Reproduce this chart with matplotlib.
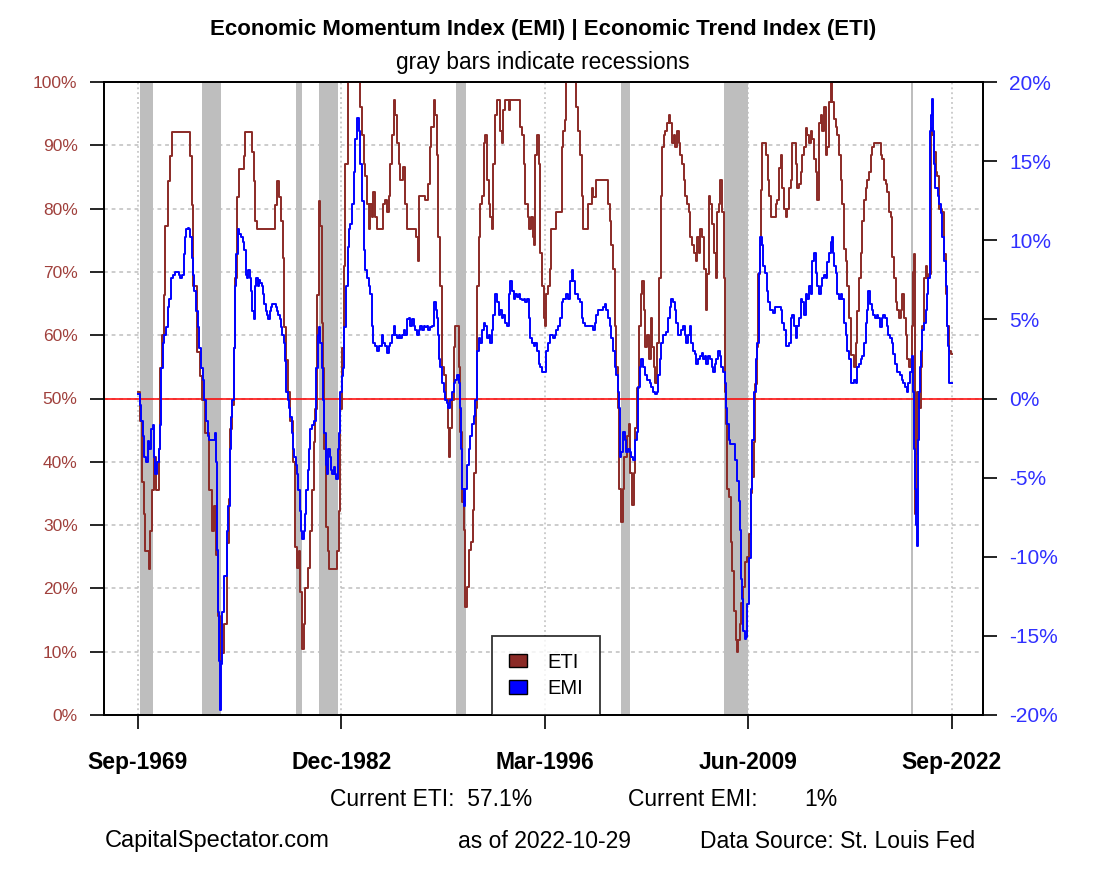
import matplotlib
matplotlib.use("Agg")
import matplotlib.pyplot as plt
from matplotlib.patches import Patch

plt.rcParams['font.family'] = ['Liberation Sans', 'DejaVu Sans']

# ---------------- data ----------------
xtick_pos = [1969.667, 1982.917, 1996.167, 2009.417, 2022.667]
xtick_labels = ["Sep-1969", "Dec-1982", "Mar-1996", "Jun-2009", "Sep-2022"]

rec_start = [1969.83, 1973.87, 1980.00, 1981.50, 1990.42, 2001.10, 2007.84, 2020.00]
rec_end = [1970.68, 1975.09, 1980.38, 1982.72, 1991.03, 2001.70, 2009.40, 2020.15]

eti_points = [
    (1969.67, 51.0), (1969.84, 46.5), (1969.95, 36.8), (1970.06, 31.7), (1970.17, 25.9),
    (1970.39, 23.0), (1970.49, 29.1), (1970.60, 35.5), (1970.71, 40.7), (1970.88, 35.5),
    (1971.04, 42.0), (1971.15, 54.8), (1971.25, 60.0), (1971.36, 66.4), (1971.47, 77.3),
    (1971.62, 84.4), (1971.80, 88.3), (1971.90, 92.1), (1973.00, 92.1), (1973.10, 88.3),
    (1973.20, 80.5), (1973.30, 67.7), (1973.53, 57.4), (1973.75, 53.5), (1973.86, 49.7),
    (1974.07, 44.5), (1974.29, 35.5), (1974.51, 29.1), (1974.62, 33.0), (1974.79, 25.2),
    (1974.90, 15.6), (1975.05, 8.5), (1975.16, 9.8), (1975.31, 14.3), (1975.48, 27.2),
    (1975.59, 34.2), (1975.70, 45.2), (1975.81, 49.0), (1975.92, 58.0), (1976.03, 69.0),
    (1976.13, 81.8), (1976.24, 86.3), (1976.57, 88.3), (1976.68, 92.1), (1977.00, 92.1),
    (1977.11, 88.9), (1977.22, 84.4), (1977.33, 78.0), (1977.44, 76.7), (1978.52, 76.7),
    (1978.63, 80.5), (1978.74, 84.4), (1978.89, 81.8), (1979.00, 78.0), (1979.10, 72.2),
    (1979.21, 61.3), (1979.32, 56.1), (1979.43, 51.0), (1979.60, 46.5), (1979.76, 40.0),
    (1979.89, 26.5), (1980.04, 23.3), (1980.15, 25.9), (1980.26, 19.5), (1980.36, 10.5),
    (1980.47, 14.3), (1980.58, 20.1), (1980.73, 23.3), (1980.91, 29.1), (1981.02, 35.5),
    (1981.12, 43.2), (1981.23, 48.4), (1981.34, 66.4), (1981.45, 81.2), (1981.56, 77.3),
    (1981.67, 61.9), (1981.73, 54.8), (1981.82, 42.0), (1981.90, 29.7), (1982.03, 25.9),
    (1982.14, 23.0), (1982.53, 23.0), (1982.64, 25.9), (1982.75, 32.3), (1982.86, 48.4),
    (1982.97, 58.0), (1983.07, 70.9), (1983.18, 87.0), (1983.33, 100.0),
    (1984.16, 96.1), (1984.27, 91.6), (1984.37, 87.1), (1984.48, 85.2), (1984.59, 80.7),
    (1984.70, 76.8), (1984.81, 80.7), (1984.92, 78.7), (1985.02, 82.6), (1985.13, 78.7),
    (1985.24, 76.8), (1985.50, 76.8), (1985.61, 80.7), (1985.78, 81.3), (1985.89, 79.4),
    (1986.00, 82.0), (1986.11, 87.1), (1986.22, 91.6), (1986.33, 97.1), (1986.43, 94.8),
    (1986.54, 90.3), (1986.65, 87.1), (1986.76, 84.5), (1986.93, 86.5), (1987.09, 80.7),
    (1987.19, 76.8), (1987.67, 76.8), (1987.80, 75.5), (1987.89, 71.7), (1988.00, 82.0),
    (1988.39, 81.3), (1988.56, 83.9), (1988.67, 89.7), (1988.78, 92.9), (1988.93, 97.1),
    (1989.04, 94.8), (1989.15, 88.4), (1989.25, 75.5), (1989.36, 67.8), (1989.47, 55.0),
    (1989.62, 53.7), (1989.75, 49.8), (1989.84, 45.3), (1989.93, 40.8), (1990.01, 45.3),
    (1990.14, 49.8), (1990.23, 58.2), (1990.34, 61.4), (1990.49, 61.4), (1990.58, 55.0),
    (1990.66, 44.7), (1990.77, 33.7), (1990.88, 29.2), (1990.99, 17.0), (1991.10, 20.2),
    (1991.21, 26.0), (1991.36, 27.3), (1991.47, 32.4), (1991.58, 38.2), (1991.66, 48.5),
    (1991.75, 67.8), (1991.86, 75.5), (1991.97, 80.7), (1992.07, 82.0), (1992.18, 90.3),
    (1992.29, 91.6), (1992.40, 84.5), (1992.51, 80.7), (1992.62, 78.7), (1992.73, 76.8),
    (1992.83, 87.1), (1992.94, 94.8), (1993.05, 97.1), (1993.27, 92.3), (1993.38, 90.3),
    (1993.48, 95.5), (1993.59, 97.1), (1993.81, 95.5), (1993.92, 97.1), (1994.46, 97.1),
    (1994.57, 92.9), (1994.68, 91.6), (1994.79, 87.1), (1994.89, 80.7), (1995.05, 78.7),
    (1995.15, 76.8), (1995.26, 78.7), (1995.37, 75.5), (1995.46, 74.2), (1995.54, 88.4),
    (1995.65, 91.6), (1995.76, 87.1), (1995.87, 73.0), (1995.98, 67.8), (1996.09, 62.7),
    (1996.17, 61.4), (1996.28, 66.5), (1996.39, 67.8), (1996.50, 70.4), (1996.60, 76.8),
    (1996.82, 76.8), (1996.93, 79.4), (1997.15, 79.4), (1997.26, 89.7), (1997.36, 92.3),
    (1997.50, 94.0), (1997.58, 100.0), (1998.12, 100.0), (1998.23, 96.1), (1998.34, 92.3),
    (1998.45, 88.4), (1998.56, 82.0), (1998.67, 76.8), (1998.88, 76.8), (1999.00, 80.7),
    (1999.21, 83.2), (1999.32, 81.9), (1999.47, 84.5), (2000.18, 84.5), (2000.29, 80.7),
    (2000.40, 78.1), (2000.51, 74.2), (2000.62, 70.4), (2000.73, 61.4), (2000.83, 55.0),
    (2000.94, 48.5), (2001.01, 35.7), (2001.12, 30.5), (2001.23, 35.7), (2001.33, 40.8),
    (2001.49, 44.0), (2001.64, 45.9), (2001.74, 38.2), (2001.85, 33.1), (2001.96, 38.2),
    (2002.07, 45.3), (2002.20, 51.7), (2002.29, 61.4), (2002.40, 66.5), (2002.51, 68.5),
    (2002.61, 64.0), (2002.72, 58.2), (2002.83, 60.1), (2002.94, 56.2), (2003.05, 62.7),
    (2003.16, 58.2), (2003.26, 55.0), (2003.37, 52.4), (2003.48, 58.8), (2003.59, 69.1),
    (2003.70, 82.0), (2003.81, 89.7), (2003.91, 91.6), (2004.02, 92.3), (2004.13, 93.5),
    (2004.24, 94.8), (2004.35, 93.5), (2004.46, 90.3), (2004.57, 91.6), (2004.67, 89.7),
    (2004.78, 92.3), (2004.89, 90.3), (2005.00, 88.4), (2005.11, 87.1), (2005.22, 84.5),
    (2005.32, 82.0), (2005.43, 80.7), (2005.54, 79.4), (2005.65, 75.5), (2005.76, 74.2),
    (2005.87, 73.0), (2005.98, 71.7), (2006.08, 75.5), (2006.19, 73.0), (2006.30, 76.8),
    (2006.41, 75.5), (2006.52, 70.4), (2006.63, 64.0), (2006.73, 69.7), (2006.84, 82.0),
    (2006.95, 80.7), (2007.06, 77.5), (2007.17, 73.0), (2007.28, 69.1), (2007.38, 79.4),
    (2007.49, 80.7), (2007.60, 84.5), (2007.71, 79.4), (2007.82, 69.1), (2007.88, 51.1),
    (2007.95, 45.9), (2008.06, 35.7), (2008.17, 34.4), (2008.27, 27.3), (2008.38, 22.8),
    (2008.49, 16.4), (2008.60, 11.9), (2008.66, 9.9), (2008.75, 11.9), (2008.86, 14.4),
    (2008.97, 17.7), (2009.08, 20.2), (2009.19, 24.1), (2009.35, 25.0), (2009.46, 28.6),
    (2009.57, 35.0), (2009.68, 37.6), (2009.79, 43.2), (2009.85, 52.3), (2009.96, 58.1),
    (2010.07, 69.7), (2010.16, 74.2), (2010.22, 83.0), (2010.33, 90.3), (2010.48, 90.3),
    (2010.59, 88.4), (2010.68, 84.5), (2010.77, 82.0), (2010.87, 78.7), (2011.09, 78.7),
    (2011.20, 80.7), (2011.31, 81.3), (2011.42, 86.4), (2011.52, 88.4), (2011.63, 83.2),
    (2011.74, 80.0), (2011.85, 78.7), (2011.96, 80.0), (2012.07, 83.2), (2012.17, 84.5),
    (2012.28, 90.3), (2012.39, 90.3), (2012.50, 87.1), (2012.61, 83.2), (2012.72, 83.9),
    (2012.83, 85.8), (2012.93, 88.4), (2013.04, 89.7), (2013.15, 92.8), (2013.26, 91.6),
    (2013.37, 90.3), (2013.48, 92.3), (2013.58, 91.0), (2013.69, 87.8), (2013.80, 85.8),
    (2013.91, 81.3), (2014.02, 93.5), (2014.13, 94.8), (2014.24, 92.3), (2014.34, 96.1),
    (2014.45, 88.4), (2014.56, 89.7), (2014.67, 96.8), (2014.78, 100.0), (2014.89, 96.8),
    (2015.00, 94.2), (2015.10, 92.9), (2015.21, 91.6), (2015.32, 88.4), (2015.43, 84.5),
    (2015.54, 80.7), (2015.65, 73.6), (2015.75, 71.7), (2015.86, 67.8), (2015.97, 62.7),
    (2016.08, 56.9), (2016.30, 55.0), (2016.40, 58.8), (2016.51, 63.9), (2016.62, 69.1),
    (2016.73, 73.0), (2016.84, 78.1), (2016.95, 81.3), (2017.06, 83.2), (2017.16, 84.5),
    (2017.27, 85.8), (2017.38, 88.4), (2017.49, 89.7), (2017.60, 90.3), (2017.92, 90.3),
    (2018.03, 88.4), (2018.14, 87.8), (2018.25, 84.5), (2018.36, 83.9), (2018.47, 82.6),
    (2018.57, 79.4), (2018.68, 78.7), (2018.79, 72.3), (2018.90, 69.1), (2019.01, 65.3),
    (2019.12, 64.0), (2019.22, 62.7), (2019.33, 64.0), (2019.44, 66.5), (2019.55, 62.7),
    (2019.66, 60.1), (2019.77, 56.2), (2019.88, 55.0), (2019.98, 56.2), (2020.09, 61.4),
    (2020.16, 70.0), (2020.20, 72.8), (2020.27, 31.8), (2020.36, 41.3), (2020.42, 51.1),
    (2020.53, 48.5), (2020.64, 55.0), (2020.74, 61.4), (2020.85, 69.1), (2020.96, 71.0),
    (2021.07, 69.1), (2021.18, 69.7), (2021.29, 92.8), (2021.39, 91.6), (2021.50, 88.9),
    (2021.61, 85.8), (2021.72, 85.2), (2021.83, 80.0), (2022.04, 79.4), (2022.15, 72.8),
    (2022.26, 66.5), (2022.37, 61.4), (2022.48, 57.5), (2022.58, 57.1), (2022.67, 57.1),
]

emi_points = [
    (1969.67, 0.3), (1969.80, -0.4), (1969.89, -1.4), (1969.99, -2.4), (1970.10, -3.7),
    (1970.21, -4.0), (1970.32, -2.7), (1970.43, -3.2), (1970.54, -1.9), (1970.65, -1.7),
    (1970.71, -3.7), (1970.82, -4.8), (1970.93, -4.0), (1971.04, -3.2), (1971.10, -1.7),
    (1971.19, 1.9), (1971.30, 3.5), (1971.41, 4.0), (1971.51, 4.5), (1971.62, 5.8),
    (1971.73, 6.3), (1971.84, 7.6), (1971.95, 7.8), (1972.12, 8.0), (1972.34, 7.8),
    (1972.45, 7.6), (1972.56, 7.8), (1972.66, 9.1), (1972.73, 10.2), (1972.84, 10.7),
    (1972.92, 10.8), (1973.03, 10.7), (1973.10, 10.2), (1973.21, 8.9), (1973.27, 7.8),
    (1973.36, 6.8), (1973.47, 5.5), (1973.58, 4.5), (1973.68, 3.2), (1973.79, 1.9),
    (1973.90, 1.2), (1974.01, -0.1), (1974.12, -1.4), (1974.23, -2.4), (1974.33, -2.6),
    (1974.68, -2.2), (1974.77, -4.0), (1974.83, -9.6), (1974.90, -13.5), (1974.96, -16.6),
    (1975.01, -19.7), (1975.09, -16.8), (1975.18, -13.5), (1975.27, -11.2), (1975.48, -8.4),
    (1975.57, -6.8), (1975.66, -3.2), (1975.74, -1.2), (1975.83, -0.1), (1975.92, 3.2),
    (1976.00, 7.1), (1976.09, 9.1), (1976.18, 10.7), (1976.29, 10.4), (1976.39, 10.2),
    (1976.50, 9.9), (1976.61, 9.4), (1976.70, 7.8), (1976.79, 7.6), (1976.87, 8.1),
    (1976.96, 7.6), (1977.05, 6.8), (1977.13, 5.5), (1977.22, 5.0), (1977.31, 7.1),
    (1977.39, 7.6), (1977.48, 7.1), (1977.57, 7.5), (1977.65, 7.3), (1977.74, 7.1),
    (1977.83, 6.6), (1977.91, 6.0), (1978.00, 5.5), (1978.09, 5.3), (1978.17, 5.0),
    (1978.26, 5.5), (1978.35, 5.8), (1978.43, 6.0), (1978.65, 5.8), (1978.74, 5.5),
    (1978.82, 5.3), (1978.91, 5.0), (1979.00, 4.5), (1979.08, 4.0), (1979.17, 3.5),
    (1979.26, 2.4), (1979.34, 0.4), (1979.43, -0.1), (1979.52, -0.6), (1979.61, -1.2),
    (1979.69, -2.2), (1979.78, -3.2), (1979.87, -3.7), (1979.95, -4.2), (1980.04, -4.8),
    (1980.13, -5.8), (1980.21, -7.1), (1980.30, -8.4), (1980.39, -8.9), (1980.47, -8.4),
    (1980.56, -7.3), (1980.65, -5.8), (1980.73, -4.5), (1980.82, -3.2), (1980.91, -1.9),
    (1981.01, -1.7), (1981.12, -1.4), (1981.25, -0.6), (1981.30, 1.9), (1981.38, 4.0),
    (1981.47, 4.5), (1981.56, 3.5), (1981.64, 1.9), (1981.73, -0.1), (1981.82, -2.2),
    (1981.90, -4.2), (1981.99, -4.8), (1982.08, -3.2), (1982.16, -3.7), (1982.25, -4.5),
    (1982.34, -4.8), (1982.42, -4.3), (1982.51, -4.8), (1982.60, -5.1), (1982.69, -3.2),
    (1982.77, -2.2), (1982.86, 0.4), (1982.95, 1.4), (1983.03, 1.9), (1983.12, 4.5),
    (1983.25, 7.1), (1983.34, 9.6), (1983.40, 10.7), (1983.51, 11.0), (1983.61, 12.3),
    (1983.72, 14.3), (1983.83, 16.4), (1983.94, 17.7), (1984.05, 16.9), (1984.16, 14.8),
    (1984.27, 12.5), (1984.37, 9.4), (1984.48, 8.1), (1984.59, 7.6), (1984.70, 7.1),
    (1984.81, 6.6), (1984.92, 4.6), (1985.02, 3.5), (1985.13, 3.3), (1985.24, 3.0),
    (1985.41, 3.3), (1985.57, 4.0), (1985.67, 3.5), (1985.78, 3.3), (1985.89, 2.9),
    (1986.00, 3.3), (1986.11, 3.5), (1986.22, 4.0), (1986.33, 4.6), (1986.43, 4.0),
    (1986.54, 3.8), (1986.65, 4.0), (1986.76, 3.8), (1986.87, 4.0), (1986.98, 4.3),
    (1987.08, 4.0), (1987.19, 5.0), (1987.30, 5.1), (1987.41, 4.6), (1987.52, 5.0),
    (1987.63, 4.6), (1987.74, 4.3), (1987.84, 4.0), (1987.95, 4.3), (1988.06, 4.6),
    (1988.17, 4.3), (1988.28, 4.6), (1988.39, 4.5), (1988.50, 4.6), (1988.60, 4.3),
    (1988.71, 4.5), (1988.82, 4.6), (1988.93, 5.1), (1988.99, 6.1), (1989.08, 5.6),
    (1989.15, 5.1), (1989.21, 4.0), (1989.28, 2.5), (1989.36, 2.0), (1989.47, 1.0),
    (1989.58, 0.4), (1989.69, -0.1), (1989.80, -0.3), (1989.90, -0.6), (1990.01, -0.1),
    (1990.12, 0.4), (1990.23, 1.0), (1990.34, 1.2), (1990.45, 1.5), (1990.56, 1.0),
    (1990.62, -0.6), (1990.71, -3.2), (1990.79, -5.7), (1990.88, -6.8), (1990.99, -5.7),
    (1991.10, -4.2), (1991.21, -3.2), (1991.31, -2.4), (1991.42, -1.6), (1991.53, -1.1),
    (1991.64, -0.1), (1991.75, 3.0), (1991.86, 3.8), (1991.97, 3.5), (1992.07, 4.3),
    (1992.18, 4.8), (1992.29, 4.6), (1992.40, 3.8), (1992.51, 4.0), (1992.62, 3.5),
    (1992.73, 4.3), (1992.83, 5.3), (1992.94, 6.6), (1993.05, 6.1), (1993.16, 5.3),
    (1993.27, 5.6), (1993.38, 5.1), (1993.48, 5.3), (1993.59, 4.8), (1993.70, 4.6),
    (1993.81, 6.6), (1993.92, 7.4), (1994.03, 6.8), (1994.14, 6.3), (1994.24, 6.6),
    (1994.35, 6.4), (1994.46, 6.6), (1994.57, 6.3), (1994.68, 6.2), (1994.79, 6.3),
    (1994.89, 6.1), (1995.00, 6.3), (1995.11, 5.1), (1995.22, 3.8), (1995.33, 3.5),
    (1995.44, 3.3), (1995.54, 3.5), (1995.65, 3.0), (1995.76, 2.2), (1995.87, 2.0),
    (1995.98, 1.7), (1996.17, 1.7), (1996.28, 3.0), (1996.39, 3.5), (1996.50, 4.0),
    (1996.71, 3.8), (1996.82, 4.0), (1996.93, 4.3), (1997.04, 4.6), (1997.15, 5.1),
    (1997.26, 6.1), (1997.36, 6.3), (1997.58, 6.6), (1997.69, 6.3), (1997.80, 7.4),
    (1997.91, 8.1), (1998.01, 7.4), (1998.12, 6.6), (1998.34, 6.3), (1998.45, 6.1),
    (1998.56, 5.1), (1998.67, 4.8), (1998.77, 4.6), (1999.21, 4.6), (1999.32, 4.3),
    (1999.42, 4.8), (1999.53, 5.3), (1999.64, 5.6), (1999.86, 5.6), (1999.97, 5.8),
    (2000.07, 6.0), (2000.18, 5.6), (2000.29, 5.1), (2000.40, 4.6), (2000.51, 3.8),
    (2000.62, 3.0), (2000.73, 2.0), (2000.83, 1.5), (2000.94, 0.4), (2000.99, -0.6),
    (2001.05, -3.7), (2001.16, -3.4), (2001.27, -2.1), (2001.38, -2.6), (2001.48, -3.4),
    (2001.59, -3.2), (2001.70, -3.4), (2001.81, -3.7), (2001.92, -3.9), (2002.03, -2.6),
    (2002.14, -2.1), (2002.24, 0.7), (2002.35, 2.0), (2002.46, 2.5), (2002.57, 2.0),
    (2002.68, 1.5), (2002.79, 1.2), (2003.00, 1.0), (2003.11, 0.7), (2003.22, 0.4),
    (2003.33, 0.3), (2003.44, 0.4), (2003.55, 1.5), (2003.65, 2.5), (2003.76, 3.5),
    (2003.87, 4.0), (2004.09, 4.2), (2004.20, 5.1), (2004.30, 5.8), (2004.41, 6.3),
    (2004.52, 6.1), (2004.63, 5.6), (2004.74, 4.8), (2004.85, 4.0), (2005.06, 4.3),
    (2005.17, 4.6), (2005.28, 4.0), (2005.39, 3.5), (2005.50, 4.0), (2005.61, 4.6),
    (2005.71, 3.5), (2005.82, 3.0), (2005.93, 2.8), (2006.04, 2.2), (2006.15, 2.5),
    (2006.26, 2.7), (2006.37, 2.9), (2006.47, 2.5), (2006.58, 2.7), (2006.69, 2.2),
    (2006.80, 2.7), (2006.91, 2.5), (2007.02, 2.0), (2007.12, 1.7), (2007.23, 2.2),
    (2007.34, 2.5), (2007.45, 3.0), (2007.56, 2.7), (2007.67, 2.0), (2007.78, 1.7),
    (2007.88, 1.0), (2007.95, -0.6), (2008.04, -1.6), (2008.14, -2.6), (2008.25, -2.9),
    (2008.47, -2.9), (2008.58, -3.9), (2008.69, -5.2), (2008.80, -6.5), (2008.86, -8.3),
    (2008.93, -11.4), (2009.01, -12.7), (2009.10, -14.7), (2009.19, -15.2), (2009.27, -15.1),
    (2009.35, -13.0), (2009.46, -10.1), (2009.57, -5.7), (2009.68, -2.6), (2009.79, 0.4),
    (2009.90, 2.5), (2010.01, 3.5), (2010.11, 7.9), (2010.18, 10.2), (2010.29, 9.7),
    (2010.40, 8.4), (2010.50, 7.9), (2010.61, 6.8), (2010.72, 6.1), (2010.83, 5.6),
    (2011.05, 5.4), (2011.16, 5.8), (2011.42, 5.8), (2011.52, 5.6), (2011.63, 4.8),
    (2011.74, 4.3), (2011.85, 3.3), (2012.07, 3.5), (2012.17, 5.1), (2012.28, 5.3),
    (2012.39, 4.6), (2012.50, 3.8), (2012.61, 4.6), (2012.72, 5.1), (2012.83, 6.3),
    (2012.93, 6.1), (2013.04, 5.3), (2013.15, 6.6), (2013.26, 6.3), (2013.37, 7.1),
    (2013.48, 6.6), (2013.58, 8.7), (2013.69, 9.2), (2013.80, 7.9), (2013.91, 7.1),
    (2014.02, 6.6), (2014.13, 7.1), (2014.24, 7.6), (2014.34, 7.8), (2014.45, 7.6),
    (2014.56, 8.6), (2014.67, 9.2), (2014.78, 9.9), (2014.84, 10.2), (2014.93, 9.2),
    (2015.00, 8.4), (2015.10, 7.9), (2015.21, 6.6), (2015.32, 6.3), (2015.43, 6.6),
    (2015.54, 6.3), (2015.65, 4.8), (2015.75, 4.0), (2015.86, 3.0), (2015.97, 2.5),
    (2016.08, 1.0), (2016.30, 1.2), (2016.40, 1.0), (2016.51, 2.0), (2016.62, 2.2),
    (2016.73, 2.5), (2016.84, 2.7), (2016.95, 3.5), (2017.06, 4.8), (2017.16, 5.6),
    (2017.23, 6.8), (2017.34, 6.0), (2017.45, 5.6), (2017.55, 5.3), (2017.66, 5.1),
    (2017.77, 5.3), (2017.88, 5.1), (2017.99, 4.5), (2018.10, 5.1), (2018.21, 5.3),
    (2018.31, 5.1), (2018.42, 4.6), (2018.53, 4.0), (2018.64, 3.8), (2018.75, 3.5),
    (2018.86, 2.8), (2018.96, 2.2), (2019.07, 1.7), (2019.29, 1.5), (2019.40, 1.2),
    (2019.51, 1.0), (2019.61, 0.7), (2019.72, 0.4), (2019.83, 1.0), (2019.94, 1.7),
    (2020.05, 2.7), (2020.11, 2.2), (2020.16, 0.4), (2020.20, -3.2), (2020.27, -5.7),
    (2020.31, -8.0), (2020.37, -9.3), (2020.44, -5.7), (2020.48, -2.6), (2020.55, 0.4),
    (2020.61, 2.0), (2020.68, 3.0), (2020.74, 4.3), (2020.85, 4.8), (2020.96, 5.6),
    (2021.07, 6.6), (2021.13, 7.6), (2021.22, 16.9), (2021.31, 17.9), (2021.39, 18.9),
    (2021.46, 16.9), (2021.52, 14.8), (2021.59, 13.3), (2021.76, 12.8), (2021.83, 12.3),
    (2021.94, 11.7), (2022.04, 10.2), (2022.15, 8.7), (2022.26, 7.1), (2022.33, 4.6),
    (2022.39, 3.3), (2022.48, 1.0), (2022.67, 1.0),
]

eti_ticks = list(range(0, 101, 10))
emi_ticks = list(range(-20, 21, 5))

current_eti = "57.1%"
current_emi = "1%"
as_of = "2022-10-29"

# ---------------- figure ----------------
W, H = 1107, 873
fig = plt.figure(figsize=(W / 100, H / 100), dpi=100)
fig.patch.set_facecolor('white')

L, R, T, B = 104, 983, 82, 715
ax = fig.add_axes([L / W, (H - B) / H, (R - L) / W, (B - T) / H])
ax.set_xlim(1967.48, 2024.69)
ax.set_ylim(0, 100)
ax2 = ax.twinx()
ax2.set_ylim(-20, 20)

BROWN = '#8B2A26'
BLUE = '#0000FF'
GRID = '#BEBEBE'

for s, e in zip(rec_start, rec_end):
    ax.axvspan(s, e, color='#BEBEBE', lw=0, zorder=0)
for yv in eti_ticks[1:-1]:
    ax.axhline(yv, color=GRID, lw=1.1, ls=(0, (2.5, 2.5)), zorder=1)
for xv in xtick_pos:
    ax.axvline(xv, color=GRID, lw=1.1, ls=(0, (1.2, 2.0)), zorder=1)
ax.axhline(50, color='#FF0000', lw=1.1, zorder=2)

ex = [p[0] for p in eti_points]
ey = [p[1] for p in eti_points]
mx = [p[0] for p in emi_points]
my = [p[1] for p in emi_points]
ax.step(ex, ey, where='post', color=BROWN, lw=1.4, zorder=3)
ax2.step(mx, my, where='post', color=BLUE, lw=1.4, zorder=3)

ax.set_yticks(eti_ticks)
ax.set_yticklabels([f"{v}%" for v in eti_ticks])
ax2.set_yticks(emi_ticks)
ax2.set_yticklabels([f"{v}%" for v in emi_ticks])
ax.set_xticks(xtick_pos)
ax.set_xticklabels(xtick_labels, fontweight='bold')

ax.tick_params(axis='y', length=10, width=1.2, pad=9, labelsize=12.5, labelcolor='#A0403C')
ax2.tick_params(axis='y', length=10, width=1.2, pad=9, labelsize=15, labelcolor='#3030FF')
ax.tick_params(axis='x', length=10, width=1.2, pad=16, labelsize=16.5, labelcolor='black')
for a in (ax, ax2):
    for sp in a.spines.values():
        sp.set_color('black')
        sp.set_linewidth(1.3)

handles = [Patch(facecolor=BROWN, edgecolor='black', label='ETI'),
           Patch(facecolor=BLUE, edgecolor='black', label='EMI')]
leg = ax2.legend(handles=handles, loc='lower left',
                 bbox_to_anchor=(492 / W, (H - B) / H), bbox_transform=fig.transFigure,
                 fontsize=14.5, frameon=True, fancybox=False, borderpad=0.85,
                 handlelength=0.9, handleheight=0.65, handletextpad=1.0,
                 labelspacing=0.35, borderaxespad=0.0)
leg.get_frame().set_edgecolor('black')
leg.get_frame().set_linewidth(1.3)
leg.set_zorder(10)

def ft(x, y, s, **kw):
    fig.text(x / W, 1 - y / H, s, va='center', **kw)

ft(543, 30, "Economic Momentum Index (EMI) | Economic Trend Index (ETI)", ha='center',
   fontsize=16, fontweight='bold')
ft(543, 62, "gray bars indicate recessions", ha='center', fontsize=16.3)
ft(330, 800, f"Current ETI:  {current_eti}", ha='left', fontsize=16.5)
ft(628, 800, "Current EMI:", ha='left', fontsize=16.5)
ft(838, 800, current_emi, ha='right', fontsize=16.5)
ft(105, 841, "CapitalSpectator.com", ha='left', fontsize=17)
ft(458, 841, f"as of {as_of}", ha='left', fontsize=16.5)
ft(700, 841, "Data Source: St. Louis Fed", ha='left', fontsize=16.5)

fig.savefig("out.png", dpi=100)
